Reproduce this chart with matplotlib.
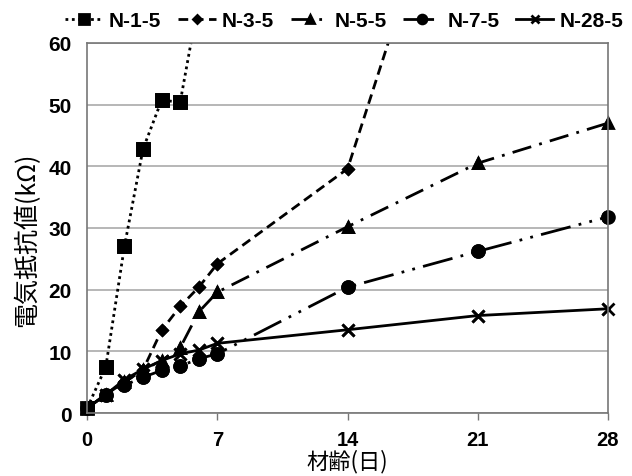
import numpy as np
import matplotlib
matplotlib.use('Agg')
import matplotlib.pyplot as plt

plt.rcParams['font.family'] = ['Liberation Sans', 'Noto Sans CJK JP', 'DejaVu Sans']

# Data (days vs. electrical resistance in kOhm)
days_n1 = [0, 1, 2, 3, 4, 5, 6]
res_n1 = [0.8, 7.5, 27.0, 42.8, 50.7, 50.4, 67.0]

days_n3 = [0, 1, 2, 3, 4, 5, 6, 7, 14, 21]
res_n3 = [0.8, 3.0, 5.0, 7.0, 13.4, 17.3, 20.4, 24.2, 39.6, 105.0]

days_n5 = [0, 1, 2, 3, 4, 5, 6, 7, 14, 21, 28]
res_n5 = [0.8, 3.0, 5.0, 7.0, 8.5, 10.6, 16.4, 19.6, 30.2, 40.5, 47.0]

days_n7 = [0, 1, 2, 3, 4, 5, 6, 7, 14, 21, 28]
res_n7 = [0.8, 3.0, 4.5, 5.8, 6.9, 7.6, 8.8, 9.6, 20.4, 26.2, 31.8]

days_n28 = [0, 1, 2, 3, 4, 5, 6, 7, 14, 21, 28]
res_n28 = [0.8, 3.0, 5.4, 7.1, 8.5, 9.6, 10.2, 11.3, 13.5, 15.8, 16.9]

labels = ['N-1-5', 'N-3-5', 'N-5-5', 'N-7-5', 'N-28-5']
xticks = [0, 7, 14, 21, 28]
yticks = [0, 10, 20, 30, 40, 50, 60]

series = [
    (days_n1, res_n1, (0, (1, 1.3)), 's', 9),
    (days_n3, res_n3, (0, (3.5, 2)), 'D', 5.5),
    (days_n5, res_n5, (0, (7, 3, 1, 3)), '^', 7.5),
    (days_n7, res_n7, (0, (11, 3, 1, 3, 1, 3)), 'o', 8.5),
    (days_n28, res_n28, '-', 'x', 8),
]

fig = plt.figure(figsize=(6.32, 4.77), dpi=100)
ax = fig.add_axes([0.138, 0.132, 0.824, 0.776])

for (d, r, ls, mk, ms), lab in zip(series, labels):
    d = np.array(d)
    r = np.array(r)
    ax.plot(d, r, color='black', linestyle=ls, linewidth=2, marker=mk,
            markersize=ms, markeredgewidth=2, label=lab)
    # markers on top of axes edges where visible
    inside = r <= 60
    ax.plot(d[inside], r[inside], linestyle='none', marker=mk, color='black',
            markersize=ms, markeredgewidth=2, clip_on=False)

ax.set_xlim(0, 28)
ax.set_ylim(0, 60)
ax.set_xticks(xticks)
ax.set_yticks(yticks)
ax.yaxis.grid(True, color='#aaaaaa', linewidth=1.2)
ax.set_axisbelow(True)
for s in ax.spines.values():
    s.set_color('#777777')
    s.set_linewidth(1.2)
ax.tick_params(axis='x', direction='out', length=5, color='#777777', width=1,
               labelsize=14.5, pad=7)
ax.tick_params(axis='y', length=0, labelsize=15, pad=11)
for t in ax.get_xticklabels() + ax.get_yticklabels():
    t.set_fontweight('bold')

ax.set_xlabel('材齢(日)', fontsize=16, family=['Noto Sans CJK JP'], labelpad=0)
ax.set_ylabel('電気抵抗値(kΩ)', fontsize=18, family=['Noto Sans CJK JP', 'DejaVu Sans'])
ax.yaxis.set_label_coords(-0.09, 0.47)

leg = fig.legend(loc='center', bbox_to_anchor=(0.545, 0.954), ncol=5,
                 frameon=False, handlelength=1.8, handletextpad=0.3,
                 columnspacing=0.8, markerscale=0.75,
                 prop={'size': 15, 'weight': 'bold'})

fig.savefig('out.png', dpi=100)
